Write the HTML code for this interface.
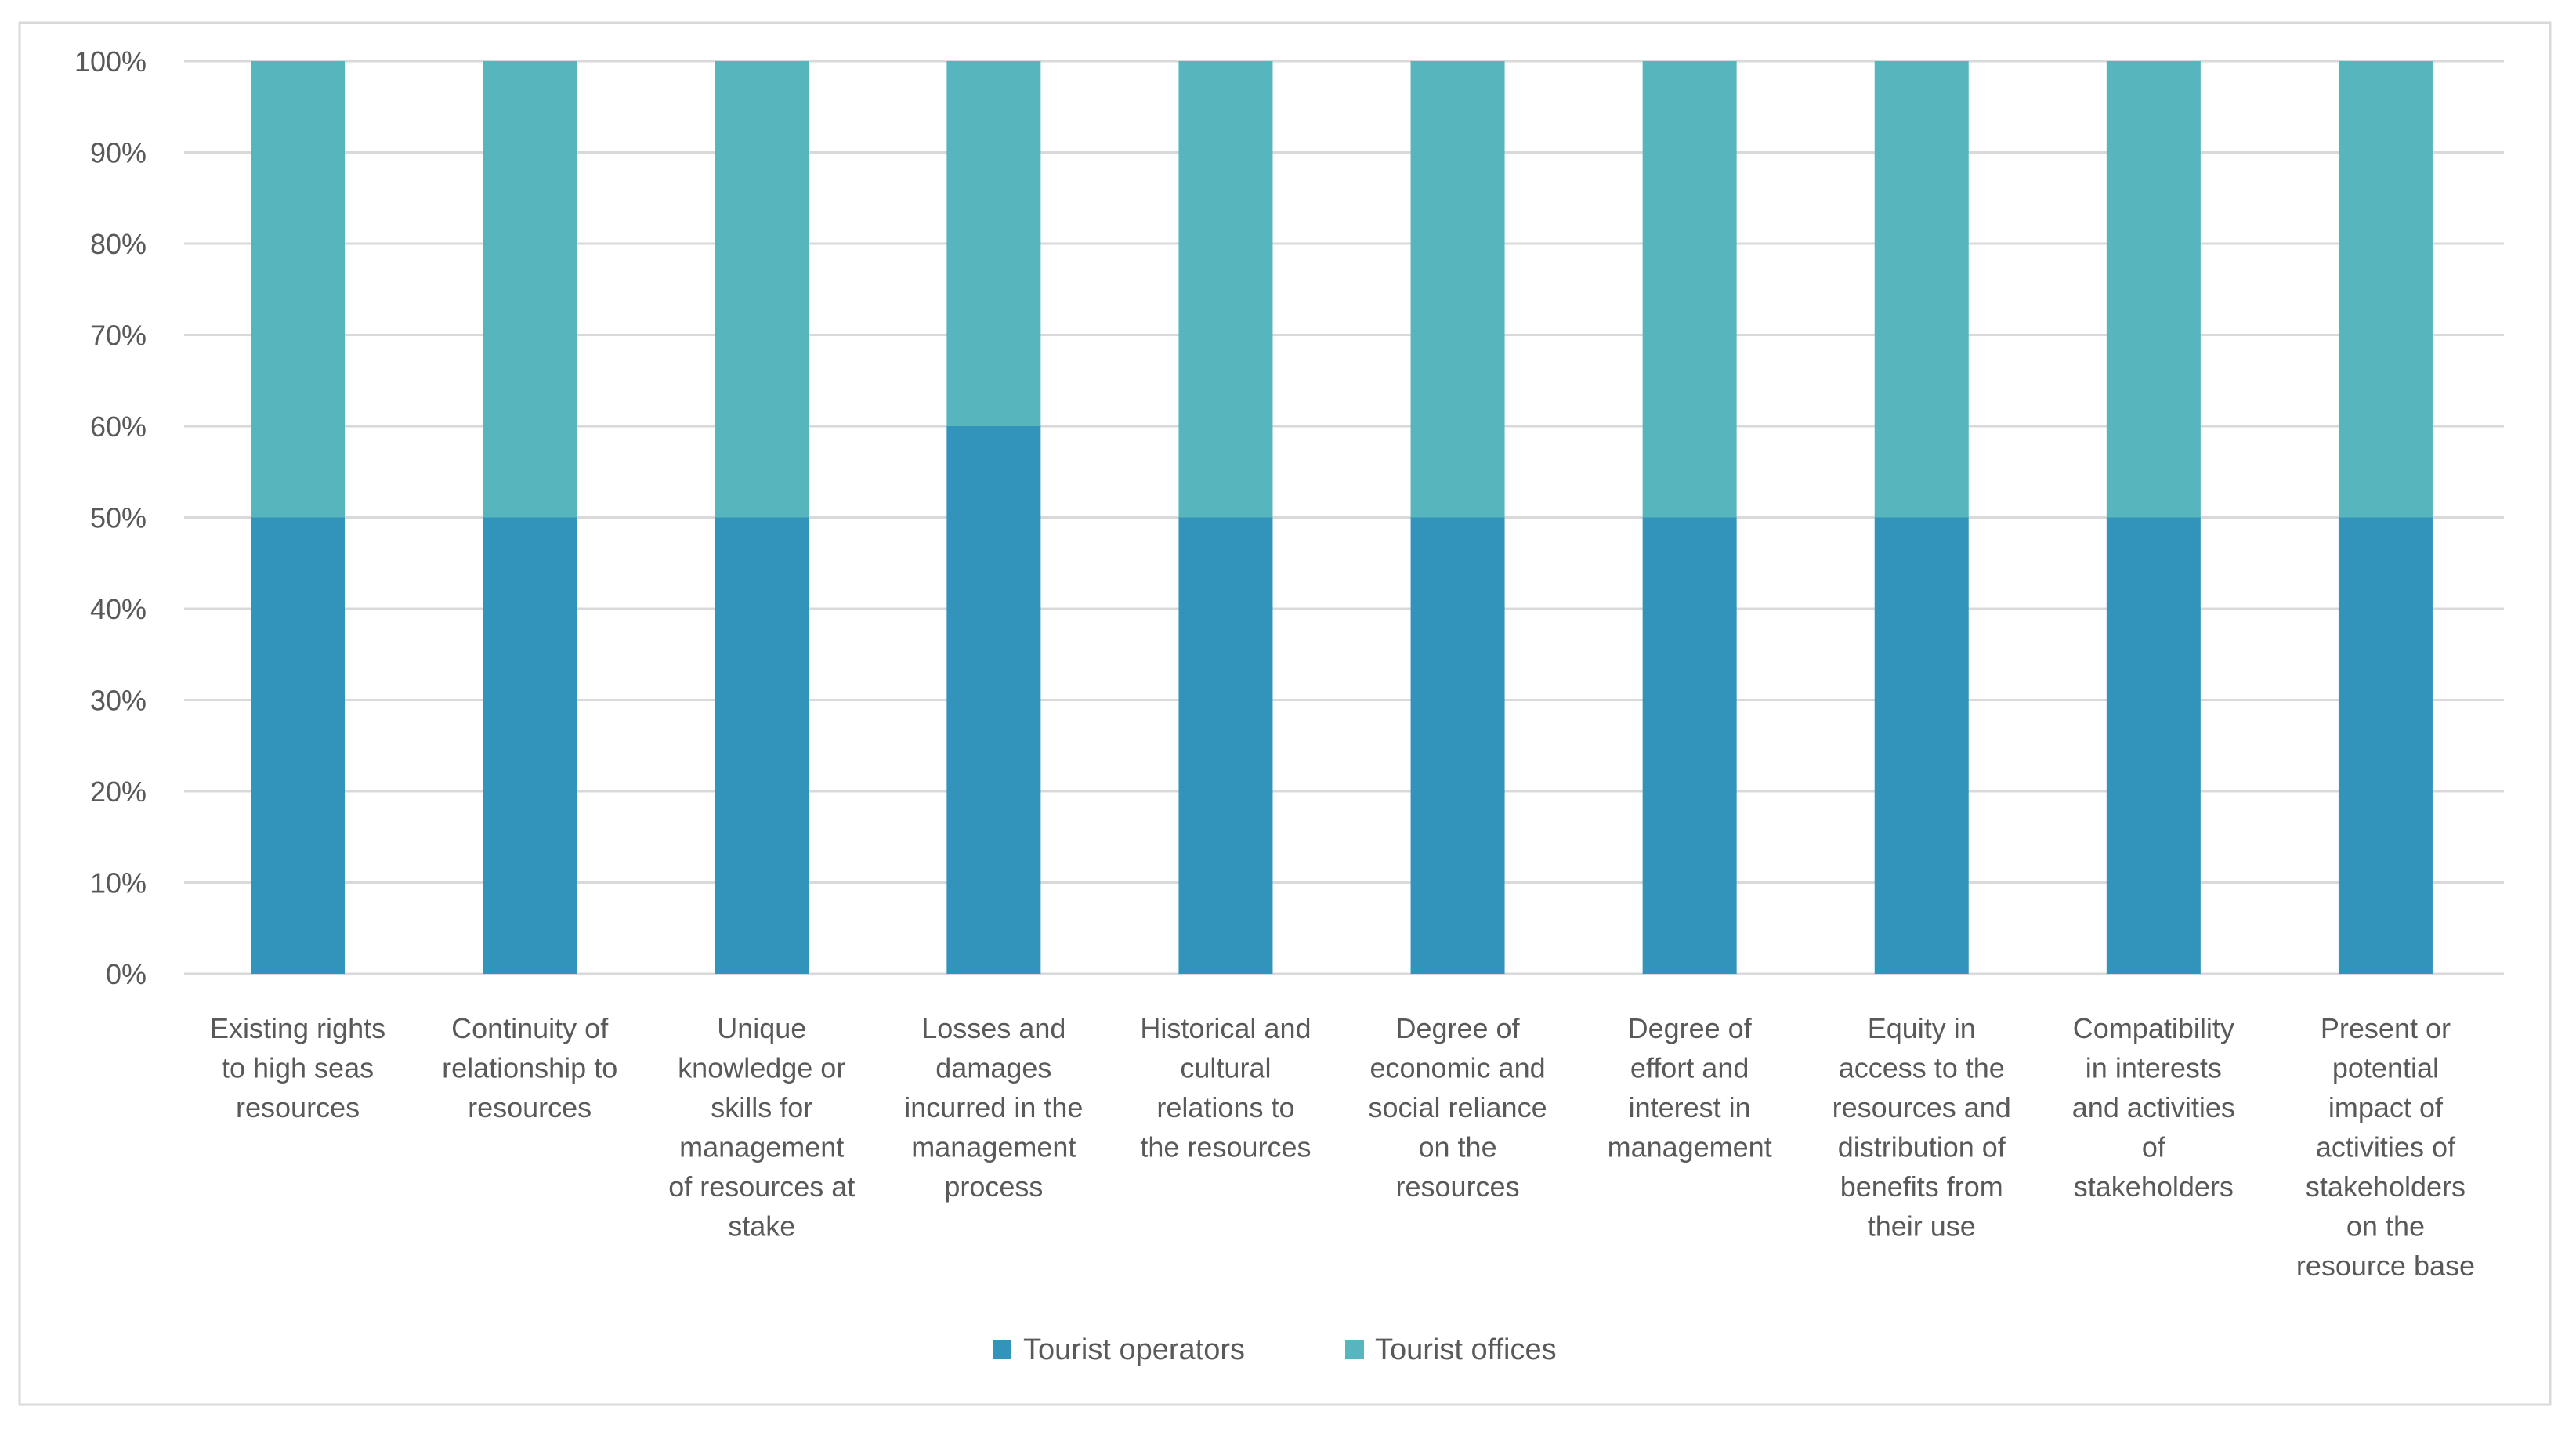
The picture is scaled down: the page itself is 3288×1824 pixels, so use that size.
<!DOCTYPE html>
<html><head><meta charset="utf-8">
<style>
html,body{margin:0;padding:0;background:#fff;}
svg{display:block;font-family:"Liberation Sans",sans-serif;}
</style></head>
<body>
<svg id="chart" width="3288" height="1824" viewBox="0 0 3288 1824" xmlns="http://www.w3.org/2000/svg">
<rect x="25" y="29" width="3230" height="1764" fill="#fff" stroke="#d9d9d9" stroke-width="3"/>
<g id="grid"></g>
<g id="yaxis"></g>
<g id="bars"></g>
<g id="xaxis"></g>
<g id="legend">
  <rect x="1267" y="1711" width="24" height="24" fill="#3293bb"/>
  <text x="1306" y="1735" font-size="38" fill="#595959">Tourist operators</text>
  <rect x="1717" y="1711" width="24" height="24" fill="#57b6bd"/>
  <text x="1755" y="1735" font-size="38" fill="#595959">Tourist offices</text>
</g>
</svg>
<script>
const categories = [
 ["Existing rights","to high seas","resources"],
 ["Continuity of","relationship to","resources"],
 ["Unique","knowledge or","skills for","management","of resources at","stake"],
 ["Losses and","damages","incurred in the","management","process"],
 ["Historical and","cultural","relations to","the resources"],
 ["Degree of","economic and","social reliance","on the","resources"],
 ["Degree of","effort and","interest in","management"],
 ["Equity in","access to the","resources and","distribution of","benefits from","their use"],
 ["Compatibility","in interests","and activities","of","stakeholders"],
 ["Present or","potential","impact of","activities of","stakeholders","on the","resource base"]
];
const operators = [50,50,50,60,50,50,50,50,50,50];
const offices   = [50,50,50,40,50,50,50,50,50,50];
const yTicks = [0,10,20,30,40,50,60,70,80,90,100];

const NS="http://www.w3.org/2000/svg";
const plotL=235, plotR=3196, yTop=78, yBot=1243;
const y = v => yBot - (v/100)*(yBot-yTop);
const step=(plotR-plotL)/categories.length;
const x = i => plotL + step*(i+0.5) + 0;
const barW=120;
function mk(tag,attrs,parent){const e=document.createElementNS(NS,tag);for(const k in attrs)e.setAttribute(k,attrs[k]);parent.appendChild(e);return e;}
const grid=document.getElementById('grid'),yaxis=document.getElementById('yaxis'),bars=document.getElementById('bars'),xaxis=document.getElementById('xaxis');
yTicks.forEach(t=>{
  const l=mk('line',{x1:plotL,x2:plotR,y1:y(t),y2:y(t),stroke:'#d9d9d9','stroke-width':3},grid);
  
  
  const tx=mk('text',{x:187,y:y(t)+13,'font-size':36,fill:'#595959','text-anchor':'end'},yaxis);
  tx.textContent=t+'%';
  
  
});
categories.forEach((c,i)=>{
  const cx=x(i)-3;
  const r1=mk('rect',{x:cx-barW/2,y:y(operators[i]),width:barW,height:y(0)-y(operators[i]),fill:'#3293bb'},bars);
  
  
  const r2=mk('rect',{x:cx-barW/2,y:y(operators[i]+offices[i]),width:barW,height:y(operators[i])-y(operators[i]+offices[i]),fill:'#57b6bd'},bars);
  
  
  const t=mk('text',{x:cx,'font-size':36,fill:'#595959','text-anchor':'middle'},xaxis);
  
  
  c.forEach((line,j)=>{const ts=mk('tspan',{x:cx,y:1325+j*50.5},t);ts.textContent=line;});
});
</script>
</body></html>
